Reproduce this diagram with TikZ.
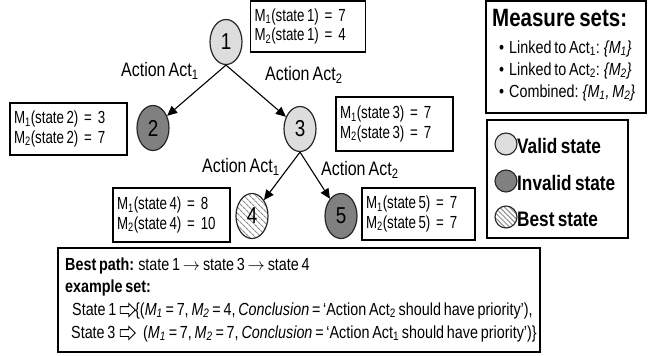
\documentclass[tikz,border=0pt]{standalone}
\usepackage{fontspec}
\setmainfont{Liberation Sans}[FakeStretch=0.82,WordSpace=0.7]
\newfontfamily\narrowfont{Liberation Sans}[FakeStretch=0.76,WordSpace=0.6]
\usepackage{tikz}
\usetikzlibrary{arrows.meta}
\usetikzlibrary{shapes.geometric,shapes.arrows,patterns.meta}

\definecolor{validgray}{RGB}{221,221,221}
\definecolor{invalidgray}{RGB}{128,128,128}

\newcommand{\Msub}[1]{M\textsubscript{#1}}
\newcommand{\Mit}[1]{\textit{M}\textsubscript{\textit{#1}}}
\newcommand{\stateof}[1]{(state\hspace{2.5pt}#1)}

\begin{document}
\begin{tikzpicture}[x=1pt,y=-1pt,
  state/.style={ellipse,draw=black!85,line width=1.2pt,minimum width=32pt,minimum height=45pt,inner sep=0pt,font=\fontsize{23}{23}\selectfont},
  valid/.style={state,fill=validgray},
  invalid/.style={state,fill=invalidgray},
  best/.style={state,pattern={Lines[angle=-45,distance=4pt,line width=1.1pt]},pattern color=black!45},
  mbox/.style={draw,line width=1.1pt,align=left,inner sep=4pt,font=\narrowfont\fontsize{17.5}{19.5}\selectfont},
  actlabel/.style={anchor=base west,inner sep=0pt,font=\fontsize{19.5}{19}\selectfont},
  move/.style={-{Triangle[length=10pt,width=9pt]},line width=1.1pt},
  hollow/.style={single arrow,draw,line width=0.9pt,fill=white,inner sep=3pt,single arrow head extend=3pt,minimum height=15pt},
  txt/.style={anchor=base west,inner sep=0pt,font=\fontsize{17.5}{17}\selectfont},
  keytxt/.style={anchor=base west,inner sep=0pt,font=\fontsize{21}{21}\selectfont\bfseries},
  key/.style={circle,draw=black!85,line width=1.1pt,minimum size=22pt,inner sep=0pt}]
\useasboundingbox (0,0) rectangle (651,356);

% search tree
\node[valid] (s1) at (226,42) {1};
\node[invalid] (s2) at (153,128) {2};
\node[valid] (s3) at (300,129) {3};
\node[best] (s4) at (252,216) {4};
\node[invalid] (s5) at (341,216) {5};

\draw [move] (s1.south) -- (s2);
\draw [move] (s1.south) -- (s3);
\draw [move] (s3.south) -- (s4);
\draw [move] (s3.south) -- (s5);

\node[actlabel] (a12) at (121,76) {Action Act\textsubscript{1}};
\node[actlabel] (a13) at (265,80) {Action Act\textsubscript{2}};
\node[actlabel] (a34) at (202,172) {Action Act\textsubscript{1}};
\node[actlabel] (a35) at (321,175) {Action Act\textsubscript{2}};

% measure values
\node[mbox,text width=107pt,minimum height=51pt] (m1) at (308,26.5) {\Msub1\stateof1 = 7\\\Msub2\stateof1 = 4};
\node[mbox,text width=109pt,minimum height=52pt] (m2) at (68.5,129) {\Msub1\stateof2 = 3\\\Msub2\stateof2 = 7};
\node[mbox,text width=109pt,minimum height=54pt] (m3) at (394.5,124) {\Msub1\stateof3 = 7\\\Msub2\stateof3 = 7};
\node[mbox,text width=109pt,minimum height=54pt] (m4) at (171.5,215) {\Msub1\stateof4 = 8\\\Msub2\stateof4 = 10};
\node[mbox,text width=105pt,minimum height=52pt] (m5) at (418.5,214) {\Msub1\stateof5 = 7\\\Msub2\stateof5 = 7};

% measure sets
\draw [line width=1.3pt] (486,1) rectangle (646,113);
\node[anchor=base west,inner sep=0pt,font=\fontsize{25}{25}\selectfont\bfseries] (mtitle) at (492,27) {Measure sets:};
\node[txt] (l1) at (499,53) {\textbullet\hspace{5pt}Linked to Act\textsubscript{1}: \textit{\{\Mit1\}}};
\node[txt] (l2) at (499,75) {\textbullet\hspace{5pt}Linked to Act\textsubscript{2}: \textit{\{\Mit2\}}};
\node[txt] (l3) at (499,97) {\textbullet\hspace{5pt}Combined: \textit{\{\Mit1, \Mit2\}}};

% legend
\draw [line width=1.8pt] (487,120) rectangle (628,238);
\node[key,fill=validgray] (kv) at (506,144) {};
\node[key,fill=invalidgray] (ki) at (506,181) {};
\node[key,pattern={Lines[angle=-45,distance=3.5pt,line width=1pt]},pattern color=black!45] (kb) at (506,217) {};
\node[keytxt] (tv) at (517,153) {Valid state};
\node[keytxt] (ti) at (517,190) {Invalid state};
\node[keytxt] (tb) at (517,226) {Best state};

% best path and examples
\draw [line width=1.8pt] (58,248) rectangle (540,352);
\node[txt] (bp) at (65,270) {\textbf{Best path:} state 1 $\rightarrow$ state 3 $\rightarrow$ state 4};
\node[txt] (ex) at (65,292) {\textbf{example set:}};
\node[txt] (st1) at (72,315) {State 1};
\node[hollow] (h1) at (126,310) {};
\node[txt] (e1) at (135,315) {\{(\Mit1 = 7, \Mit2 = 4, \textit{Conclusion} = `Action Act\textsubscript{2} should have priority'),};
\node[txt] (st3) at (71,338) {State 3};
\node[hollow] (h3) at (126,333) {};
\node[txt] (e3) at (143,338) {(\Mit1 = 7, \Mit2 = 7, \textit{Conclusion} = `Action Act\textsubscript{1} should have priority')\}};
\end{tikzpicture}
\end{document}
